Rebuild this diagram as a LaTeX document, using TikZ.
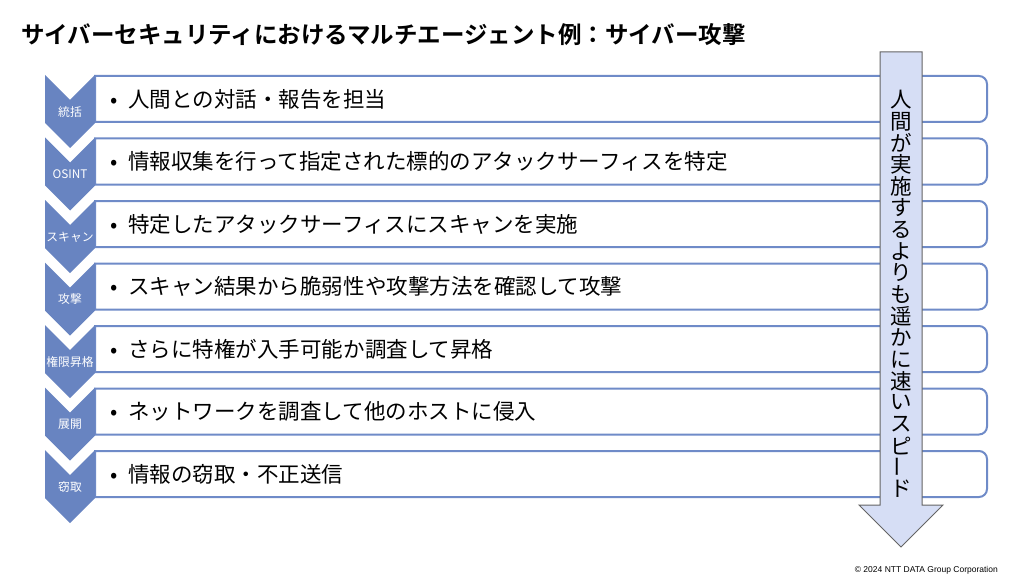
\documentclass[tikz,border=0pt]{standalone}
\usepackage{fontspec}
\usepackage{xcolor}
\usepackage{graphicx}
\usetikzlibrary{positioning}
\newfontfamily\jp{Noto Sans CJK JP}[BoldFont={Noto Sans CJK JP Bold}]
\newfontfamily\copyfont{Liberation Sans}
\definecolor{chevblue}{RGB}{104,132,193}
\definecolor{lineblue}{RGB}{111,139,200}
\definecolor{arrowfill}{RGB}{214,222,245}
\definecolor{arrowline}{RGB}{100,100,100}

\begin{document}
\begin{tikzpicture}[
    x=1pt, y=-1pt,  % pixel grid, y goes down
    chev/.style = {fill=chevblue},
    rowbox/.style = {draw=lineblue, line width=2pt, fill=white},
    item/.style = {anchor=west, inner sep=0pt, font=\jp\fontsize{21.5}{26}\selectfont},
    tag/.style = {text=white, inner sep=0pt, font=\jp\fontsize{11.8}{13}\selectfont},
    vchar/.style = {inner sep=0pt, font=\jp\fontsize{21.5}{24}\selectfont},
    arrowbody/.style = {fill=arrowfill, draw=arrowline, line width=1pt}
  ]
    \useasboundingbox (0,0) rectangle (1032,580);
    \node[anchor=west, inner sep=0pt, font=\jp\bfseries\fontsize{23.5}{28}\selectfont] (title) at (21,35) {サイバーセキュリティにおけるマルチエージェント例：サイバー攻撃};

    % steps: chevron + text box
    \foreach \lab/\txt [count=\i from 0] in {統括/人間との対話・報告を担当, OSINT/情報収集を行って指定された標的のアタックサーフィスを特定, スキャン/特定したアタックサーフィスにスキャンを実施, 攻撃/スキャン結果から脆弱性や攻撃方法を確認して攻撃, 権限昇格/さらに特権が入手可能か調査して昇格, 展開/ネットワークを調査して他のホストに侵入, 窃取/情報の窃取・不正送信} {
      \pgfmathsetmacro{\y}{75+62.5*\i}
      \draw[rowbox] (95,\y+1) -- (979,\y+1) arc[start angle=90, end angle=0, radius=8pt] -- (987,\y+39) arc[start angle=0, end angle=-90, radius=8pt] -- (95,\y+47) -- cycle;
      \fill[chev] (45,\y) -- (70,\y+25) -- (95,\y) -- (95,\y+48) -- (70,\y+73) -- (45,\y+48) -- cycle;
      \node[tag] (c\i) at (70,\y+37) {\lab};
      \node[item] (t\i) at (110,\y+24) {•\hspace{11pt}\txt};
    }

    % speed arrow
    \filldraw[arrowbody] (880,52) -- (922,52) -- (922,505) -- (943,505) -- (901,547) -- (859,505) -- (880,505) -- cycle;
    \foreach \ch [count=\k from 0] in {人,間,が,実,施,す,る,よ,り,も,遥,か,に,速,い,ス,ピ,\rotatebox{90}{ー},ド}
      \node[vchar] (v\k) at (901,100+21.6*\k) {\ch};

    \node[anchor=east, inner sep=0pt, font=\copyfont\fontsize{8.5}{10}\selectfont] (copy) at (998,570) {© 2024 NTT DATA Group Corporation};
  \end{tikzpicture}
\end{document}
